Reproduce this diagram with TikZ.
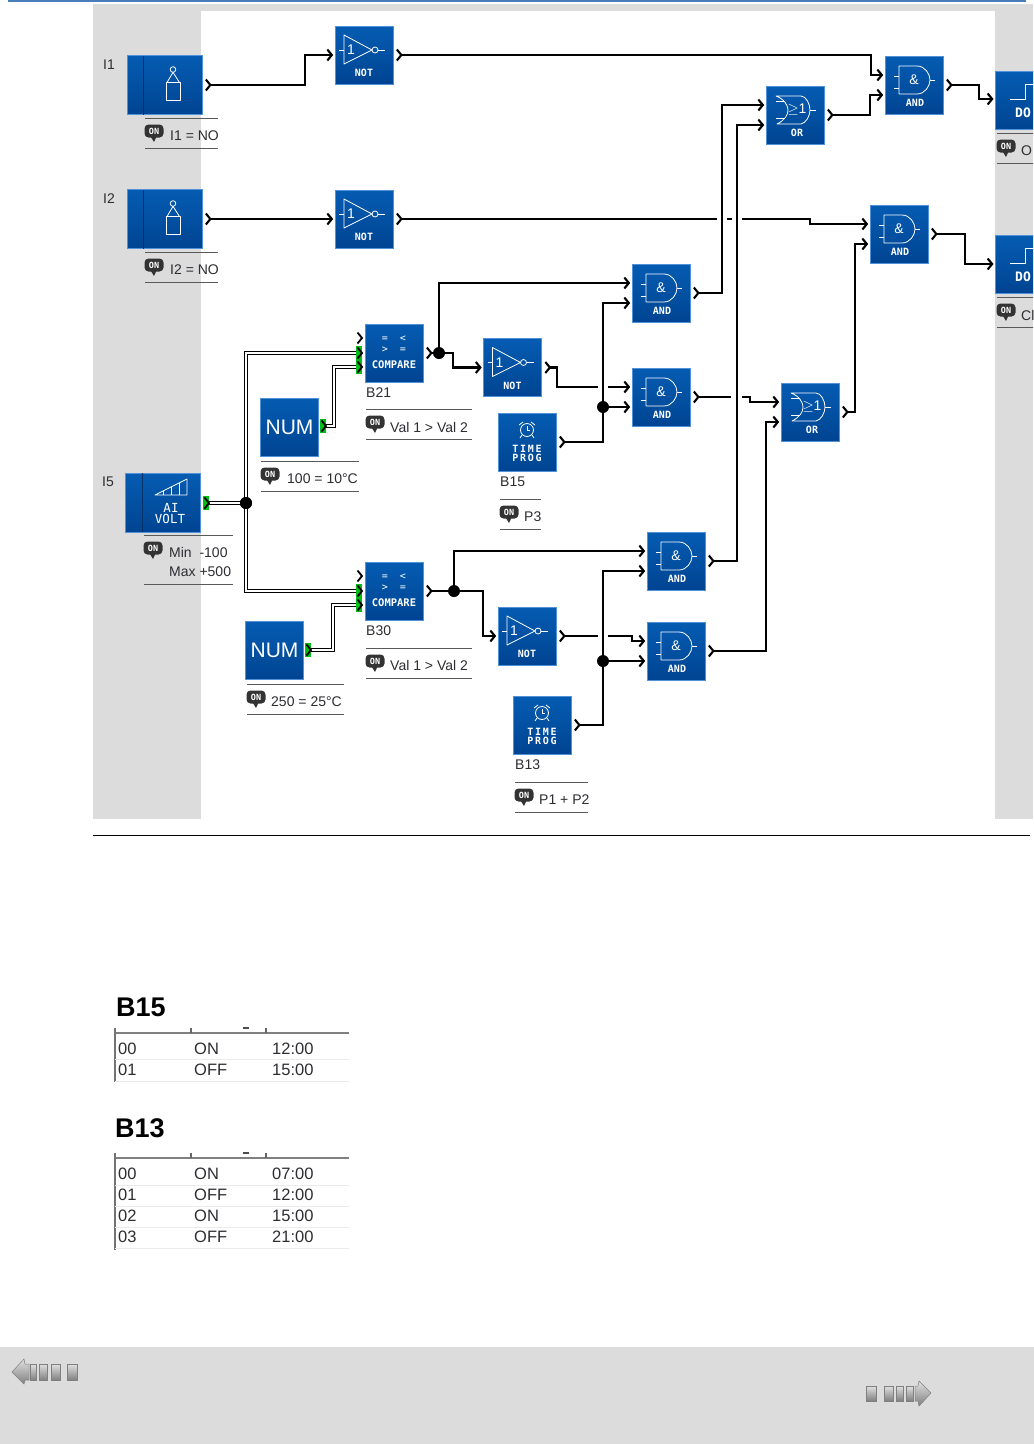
\documentclass[tikz,border=0pt]{standalone}
\usepackage{fontspec}
\setmainfont{Liberation Sans}
\newfontfamily\blockfont{DejaVu Sans Mono}
\newfontfamily\spacedfont[LetterSpace=18]{DejaVu Sans Mono}
\usepackage{xcolor}
\usetikzlibrary{arrows.meta}
\definecolor{panelgray}{RGB}{220,220,220}
\definecolor{blocktop}{RGB}{5,92,178}
\definecolor{blockbot}{RGB}{0,68,146}
\definecolor{blockedge}{RGB}{80,145,215}
\definecolor{portgreen}{RGB}{0,190,20}
\definecolor{inktext}{RGB}{45,45,50}
\definecolor{headblue}{RGB}{74,126,187}

\tikzset{
  blockbox/.style={draw=blockedge,line width=0.6pt,top color=blocktop,bottom color=blockbot,
    minimum width=58pt,minimum height=58pt,inner sep=0pt},
  wideblock/.style={blockbox,minimum width=75pt,minimum height=59pt},
  icon/.style={draw=white,line width=0.8pt,line join=round},
  blocktxt/.style={text=white,inner sep=0pt,font=\blockfont\bfseries\fontsize{10}{10}\selectfont},
  wire/.style={line width=2.1pt,line join=miter},
  outtip/.style={wire,{Straight Barb[reversed,length=4.5pt,width=11pt]}-},
  intip/.style={wire,-{Straight Barb[length=4.5pt,width=11pt]}},
  outin/.style={wire,{Straight Barb[reversed,length=4.5pt,width=11pt]}-{Straight Barb[length=4.5pt,width=11pt]}},
  dbl/.style={draw=black,double=white,double distance=1.3pt,line width=0.9pt},
  dot/.style={circle,fill=black,inner sep=0pt,minimum size=12pt},
  tag/.style={text=inktext,inner sep=0pt,anchor=west,font=\fontsize{14}{16}\selectfont},
  rulel/.style={draw=black!65,line width=0.9pt},
  cell/.style={text=inktext,inner sep=0pt,anchor=west,font=\fontsize{16.5}{18}\selectfont},
  navshape/.style={draw=black!50,line width=0.5pt,top color=black!12,bottom color=black!50},
  cmpsym/.style={text=white,inner sep=0pt,font=\blockfont\fontsize{10}{10}\selectfont},
  noticon/.pic={
    \draw[icon] (-20,-20) -- (-20,9) -- (8,-5) -- cycle;
    \draw[icon] (11,-5) circle (3);
    \draw[icon] (-25,-5) -- (-20,-5) (14,-5) -- (21,-5);
    \node[text=white,inner sep=0pt,font=\fontsize{14}{14}\selectfont] (-n) at (-13,-5) {1};
    \node[blocktxt] (-t) at (0,18) {NOT};
  },
  andicon/.pic={
    \draw[icon] (-15,-19) -- (3,-19) .. controls (11,-19) and (16,-11) .. (16,-5)
      .. controls (16,1) and (11,9) .. (3,9) -- (-15,9) -- cycle;
    \draw[icon] (-20,-9) -- (-15,-9) (-20,3) -- (-15,3) (16,-5) -- (21,-5);
    \node[text=white,inner sep=0pt,font=\fontsize{14}{14}\selectfont] (-n) at (0,-5) {\&};
    \node[blocktxt] (-t) at (1,18) {AND};
  },
  oricon/.pic={
    \draw[icon] (-19,-19) -- (6,-19) .. controls (11,-19) and (15,-11) .. (15,-5)
      .. controls (15,1) and (11,8) .. (6,9) -- (-18,9) .. controls (-10,5) and (-7,0) .. (-7,-5)
      .. controls (-7,-10) and (-11,-16) .. (-19,-19) -- cycle;
    \draw[icon] (-19,-14) -- (-10,-14) (-19,3) -- (-10,3) (15,-5) -- (21,-5);
    \node[text=white,inner sep=0pt,font=\fontsize{14}{14}\selectfont] (-n) at (2,-5) {$\geq$1};
    \node[blocktxt] (-t) at (2,18) {OR};
  },
  compareicon/.pic={
    \node[cmpsym] (-p) at (-9,-14) {=};
    \node[cmpsym] (-q) at (9,-14) {<};
    \node[cmpsym] (-r) at (-9,-3) {>};
    \node[cmpsym] (-s) at (9,-3) {=};
    \node[blocktxt,font=\blockfont\bfseries\fontsize{10.5}{10}\selectfont] (-t) at (0,12) {COMPARE};
  },
  clockicon/.pic={
    \draw[icon] (0,-12) circle (6.5);
    \draw[icon] (0,-16) -- (0,-12) -- (3,-12);
    \draw[icon] (-8,-17) -- (-4,-20) (8,-17) -- (4,-20) (-5,-7) -- (-7,-4) (5,-7) -- (7,-4);
    \node[blocktxt,font=\spacedfont\bfseries\fontsize{10}{10}\selectfont] (-t) at (0,7) {TIME};
    \node[blocktxt,font=\spacedfont\bfseries\fontsize{10}{10}\selectfont] (-u) at (0,16) {PROG};
  },
  contacticon/.pic={
    \draw[icon] (1.5,-2.5) rectangle (16,15.5);
    \draw[icon] (8.5,-15.5) circle (2.8);
    \draw[icon] (2.5,-2.5) -- (8.5,-12.7) -- (15,-2.5);
  },
  onicon/.pic={
    \fill[black!80,rounded corners=4pt] (-9.5,-7) rectangle (9.5,6);
    \fill[black!80] (-4,4) -- (3,4) -- (0,10.5) -- cycle;
    \node[text=white,inner sep=0pt,font=\blockfont\bfseries\fontsize{8.5}{8}\selectfont] (-t) at (0,-0.5) {ON};
  },
}

\newcommand{\gateblock}[4]{%
  \node[blockbox] (#1) at (#2,#3) {};
  \pic (#1x) at (#1.center) {#4};
  \coordinate (#1-a) at ([shift={(-1.5pt,10pt)}]#1.west);
  \coordinate (#1-b) at ([shift={(-1.5pt,-10pt)}]#1.west);
  \coordinate (#1-c) at ([xshift=-1.5pt]#1.west);
  \coordinate (#1-o) at ([xshift=2.5pt]#1.east);
}
\newcommand{\blocknote}[4][30]{%
  \draw[rulel] (#2,#4) -- (#3,#4) (#2,#4+#1) -- (#3,#4+#1);
  \pic (on#2x#4) at (#2+9,#4+13.5) {onicon};
}
\newcommand{\chevron}[1]{%
  \draw[line width=1.8pt] ([shift={(-4.5pt,5.5pt)}]#1) -- (#1) -- ([shift={(-4.5pt,-5.5pt)}]#1);
}
\newcommand{\greenport}[1]{%
  \fill[portgreen] ([shift={(-6.5pt,-7pt)}]#1) rectangle ([shift={(0pt,7pt)}]#1);
  \chevron{#1}
}

\begin{document}
\begin{tikzpicture}[x=1pt,y=-1pt]
\useasboundingbox (0,0) rectangle (1034,1444);
\fill[white] (0,0) rectangle (1034,1444);
\fill[headblue] (8,0) rectangle (1026,2);

%%%%%%%%%%  panel
\fill[panelgray] (93,4) rectangle (1033,819);
\fill[white] (201,11) rectangle (995,819);
\draw[line width=0.9pt] (93,835) -- (1030,835);

\begin{scope}
\clip (0,0) rectangle (1033,830);

%%%%%%%%%%  inputs
\node[wideblock] (i1) at (164.5,85) {};
\node[wideblock] (i2) at (164.5,219) {};
\node[wideblock] (i5) at (163,502.5) {};
\draw[blockbot!70!black,line width=0.8pt] (143,56) -- (143,115) (143,190) -- (143,249) (142,473) -- (142,532);
\pic at (i1.center) {contacticon};
\pic at (i2.center) {contacticon};
\coordinate (i1-o) at ([xshift=2.5pt]i1.east);
\coordinate (i2-o) at ([xshift=2.5pt]i2.east);
\coordinate (i5-o) at (209,503);
\node[tag] (i1-lbl) at (103,65) {I1};
\node[tag] (i2-lbl) at (103,199) {I2};
\node[tag] (i5-lbl) at (102,482) {I5};
\blocknote{145}{218}{118}
\blocknote{145}{218}{252}
\blocknote[49]{144}{233}{535}
\node[tag] (i1-txt) at (170,136) {I1 = NO};
\node[tag] (i2-txt) at (170,270) {I2 = NO};
\node[tag] (i5-min) at (169,552.5) {Min~~-100};
\node[tag] (i5-max) at (169,571.5) {Max +500};
% analog icon
\draw[icon] (155,495) -- (187,479) -- (187,495) -- cycle;
\draw[icon,line width=0.6pt] (163,491) -- (163,495) (171,487) -- (171,495) (179,483) -- (179,495);
\node[text=white,inner sep=0pt,font=\blockfont\fontsize{12.5}{12}\selectfont] (i5-ai) at (171,508) {AI};
\node[text=white,inner sep=0pt,font=\blockfont\fontsize{12.5}{12}\selectfont] (i5-volt) at (170,519) {VOLT};

%%%%%%%%%%  gates
\gateblock{not1}{364}{55}{noticon}
\gateblock{not2}{364}{219}{noticon}
\gateblock{not3}{512.5}{367.5}{noticon}
\gateblock{not4}{527}{636}{noticon}
\gateblock{and1}{914}{85}{andicon}
\gateblock{and2}{899}{234}{andicon}
\gateblock{and3}{661}{293}{andicon}
\gateblock{and4}{661}{397}{andicon}
\gateblock{and5}{676}{561}{andicon}
\gateblock{and6}{676}{651}{andicon}
\gateblock{or1}{795}{115}{oricon}
\gateblock{or2}{810}{412}{oricon}
\gateblock{tp15}{527}{442}{clockicon}
\gateblock{tp13}{542}{725}{clockicon}

%%%%%%%%%%  compare
\gateblock{cmp1}{394}{353}{compareicon}
\gateblock{cmp2}{394}{591}{compareicon}
\coordinate (cmp1-a) at (362,338);
\coordinate (cmp1-b) at (362,353);
\coordinate (cmp1-c) at (362,367);
\coordinate (cmp2-a) at (362,576);
\coordinate (cmp2-b) at (362,591);
\coordinate (cmp2-c) at (362,605);
\node[tag] (cmp1-lbl) at (366,393) {B21};
\node[tag] (cmp2-lbl) at (366,631) {B30};
\blocknote{366}{472}{409}
\blocknote{366}{472}{648}
\node[tag] (cmp1-txt) at (390,427) {Val 1 > Val 2};
\node[tag] (cmp2-txt) at (390,665) {Val 1 > Val 2};

%%%%%%%%%%  num
\node[blockbox] (num1) at (289.5,427) {};
\node[blockbox] (num2) at (274.5,650) {};
\node[text=white,inner sep=0pt,font=\fontsize{21}{21}\selectfont] (num1-t) at (num1) {NUM};
\node[text=white,inner sep=0pt,font=\fontsize{21}{21}\selectfont] (num2-t) at (num2) {NUM};
\coordinate (num1-o) at (326,426);
\coordinate (num2-o) at (311,650);
\blocknote{261}{359}{461}
\blocknote{247}{344}{684}
\node[tag] (num1-txt) at (287,478.5) {100 = 10°C};
\node[tag] (num2-txt) at (271,701.5) {250 = 25°C};

%%%%%%%%%%  time prog labels
\node[tag] (tp15-lbl) at (500,482) {B15};
\node[tag] (tp13-lbl) at (515,765) {B13};
\blocknote{500}{541}{499}
\blocknote{515}{588}{782}
\node[tag] (tp15-txt) at (524,516.5) {P3};
\node[tag] (tp13-txt) at (539,799.5) {P1 + P2};

%%%%%%%%%%  outputs
\node[blockbox] (do1) at (1024,100.5) {};
\node[blockbox] (do2) at (1024,264) {};
\draw[icon] (1010,99) -- (1025,99) -- (1025,84) -- (1040,84);
\draw[icon] (1010,263) -- (1025,263) -- (1025,248) -- (1040,248);
\node[blocktxt,anchor=west,font=\blockfont\bfseries\fontsize{13}{13}\selectfont] (do1-t) at (1015,112.5) {DO};
\node[blocktxt,anchor=west,font=\blockfont\bfseries\fontsize{13}{13}\selectfont] (do2-t) at (1015,276.5) {DO};
\coordinate (do1-a) at (993.5,99);
\coordinate (do2-a) at (993.5,264);
\blocknote{997}{1040}{133}
\blocknote{997}{1040}{297}
\node[tag] (do1-txt) at (1021,150.5) {O};
\node[tag] (do2-txt) at (1021,315) {Cl};

%%%%%%%%%%  junctions
\node[dot] (j21) at (439,353) {};
\node[dot] (j30) at (454,591) {};
\node[dot] (j15) at (603,407) {};
\node[dot] (j13) at (603,661) {};
\node[dot] (j5) at (246,503) {};

%%%%%%%%%%  wires
\draw[outin] (i1-o) -- (305,85) -- (305,55) -- (not1-c);
\draw[outin] (i2-o) -- (not2-c);
\draw[outin] (not1-o) -- (871,55) -- (871,75) -- (and1-a);
\draw[outin] (or1-o) -- (870,115) -- (870,95) -- (and1-b);
\draw[outin] (and1-o) -- (979,85) -- (979,99) -- (do1-a);
\draw[outin] (and2-o) -- (965,234) -- (965,264) -- (do2-a);
\draw[outtip] (not2-o) -- (717,219);
\draw[wire] (727,219) -- (732,219);
\draw[intip] (742,219) -- (810,219) -- (810,224) -- (and2-a);
\draw[outin] (or2-o) -- (855,412) -- (855,244) -- (and2-b);
\draw[outin] (and3-o) -- (722,293) -- (722,105) -- (or1-a);
\draw[outin] (and5-o) -- (737,561) -- (737,125) -- (or1-b);
% B21 branch
\draw[outtip] (cmp1-o) -- (j21);
\draw[intip] (j21) -- (439,283) -- (and3-a);
\draw[intip] (j21) -- (453,353) -- (453,367.5) -- (not3-c);
\draw[outtip] (not3-o) -- (557,367.5) -- (557,387) -- (598,387);
\draw[intip] (608,387) -- (and4-a);
\draw[outtip] (tp15-o) -- (603,442) -- (j15);
\draw[intip] (j15) -- (and4-b);
\draw[intip] (j15) -- (603,303) -- (and3-b);
\draw[outtip] (and4-o) -- (731,397);
\draw[intip] (742,397) -- (750,397) -- (750,402) -- (or2-a);
\draw[outin] (and6-o) -- (766,651) -- (766,422) -- (or2-b);
% B30 branch
\draw[outtip] (cmp2-o) -- (j30);
\draw[intip] (j30) -- (454,551) -- (and5-a);
\draw[intip] (j30) -- (483,591) -- (483,636) -- (not4-c);
\draw[outtip] (not4-o) -- (598,636);
\draw[intip] (608,636) -- (632,636) -- (632,641) -- (and6-a);
\draw[outtip] (tp13-o) -- (603,725) -- (j13);
\draw[intip] (j13) -- (and6-b);
\draw[intip] (j13) -- (603,571) -- (and5-b);
% analog lines
\draw[dbl] (cmp1-b) -| (j5.center) |- (cmp2-b);
\draw[dbl] (i5-o) -- (j5.center);
\draw[dbl] (num1-o) -- (334,426) -- (334,367) -- (cmp1-c);
\draw[dbl] (num2-o) -- (333,650) -- (333,605) -- (cmp2-c);
\node[dot] (j5top) at (j5) {};
\greenport{i5-o}
\greenport{num1-o}
\greenport{num2-o}
\chevron{cmp1-a}
\chevron{cmp2-a}
\greenport{cmp1-b}
\greenport{cmp1-c}
\greenport{cmp2-b}
\greenport{cmp2-c}
\end{scope}

%%%%%%%%%%  tables
\node[inner sep=0pt,anchor=west,font=\bfseries\fontsize{27}{27}\selectfont] (b15) at (116,1007) {B15};
\node[inner sep=0pt,anchor=west,font=\bfseries\fontsize{27}{27}\selectfont] (b13) at (115,1128) {B13};

\foreach \ytop/\yend in {1033/1082,1158/1250}{
  \draw[black!50,line width=1.6pt] (115,\ytop) -- (349,\ytop);
  \draw[black!55,line width=2pt] (115,\ytop-5) -- (115,\yend);
  \draw[black!60,line width=1.2pt] (191,\ytop-5) -- (191,\ytop) (266,\ytop-5) -- (266,\ytop);
  \draw[black!70,line width=1.2pt] (243,\ytop-5) -- (249,\ytop-5);
}
\foreach \y in {1059,1081,1185,1206,1227,1248}{
  \draw[black!8,line width=0.9pt] (115,\y) -- (349,\y);
}
\foreach \y/\a/\b/\c/\n in {1049/00/ON/12:00/p1,1070/01/OFF/15:00/p2,
  1174/00/ON/07:00/q1,1195/01/OFF/12:00/q2,1216/02/ON/15:00/q3,1237/03/OFF/21:00/q4}{
  \node[cell] (\n-a) at (118,\y) {\a};
  \node[cell] (\n-b) at (194,\y) {\b};
  \node[cell] (\n-c) at (272,\y) {\c};
}

%%%%%%%%%%  footer
\fill[panelgray] (0,1347) rectangle (1034,1444);
\draw[navshape] (12,1372) -- (24,1359) -- (25,1364) -- (29,1364) -- (29,1380) -- (25,1380) -- (24,1384) -- cycle;
\foreach \xa/\xb in {30/36.5,39.5/47,51.5/60,67/77}{
  \draw[navshape] (\xa,1364) rectangle (\xb,1380);
}
\draw[navshape] (931,1393) -- (919,1381) -- (918,1386) -- (915,1386) -- (915,1401) -- (918,1401) -- (919,1406) -- cycle;
\foreach \xa/\xb in {866/876,884/893,896/903,906/913}{
  \draw[navshape] (\xa,1386) rectangle (\xb,1401);
}
\end{tikzpicture}
\end{document}
